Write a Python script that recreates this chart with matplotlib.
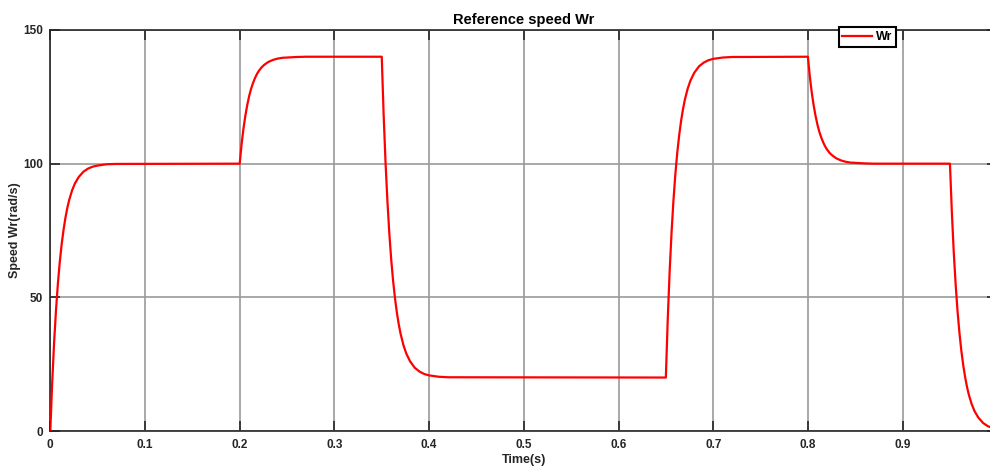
import numpy as np
import matplotlib
matplotlib.use("Agg")
import matplotlib.pyplot as plt

plt.rcParams['font.family'] = ['Liberation Sans', 'DejaVu Sans']

# time offsets (s) after each reference change at which values were read
offsets = [0, 0.001, 0.002, 0.003, 0.004, 0.005, 0.006, 0.007, 0.008, 0.009,
           0.010, 0.012, 0.014, 0.016, 0.018, 0.020, 0.023, 0.026, 0.030,
           0.035, 0.040, 0.045, 0.050, 0.060, 0.070]

# instants of reference change (s)
step_times = [0.0, 0.2, 0.35, 0.65, 0.8, 0.95]

# speed values (rad/s) read after each change
seg1 = [0, 9.5, 18.1, 25.9, 33.0, 39.4, 45.1, 50.3, 55.1, 59.3, 63.2, 69.9, 75.3,
        79.8, 83.5, 86.5, 90.0, 92.6, 95.0, 97.0, 98.2, 98.9, 99.3, 99.8, 99.9]
seg2 = [100, 103.8, 107.3, 110.4, 113.2, 115.7, 118.0, 120.1, 122.0, 123.7, 125.3,
        128.0, 130.1, 131.9, 133.4, 134.6, 136.0, 137.0, 138.0, 138.8, 139.3,
        139.6, 139.7, 139.9, 140.0]
seg3 = [140, 128.6, 118.2, 108.9, 100.4, 92.8, 85.9, 79.6, 73.9, 68.8, 64.1, 56.1,
        49.6, 44.2, 39.8, 36.2, 32.0, 28.9, 26.0, 23.6, 22.2, 21.3, 20.8, 20.3, 20.1]
seg4 = [20, 31.4, 41.8, 51.1, 59.6, 67.2, 74.1, 80.4, 86.1, 91.2, 95.9, 103.9,
        110.4, 115.8, 120.2, 123.8, 128.0, 131.1, 134.0, 136.4, 137.8, 138.7,
        139.2, 139.7, 139.9]
seg5 = [140, 136.2, 132.7, 129.6, 126.8, 124.3, 122.0, 119.9, 118.0, 116.3, 114.7,
        112.0, 109.9, 108.1, 106.6, 105.4, 104.0, 103.0, 102.0, 101.2, 100.7,
        100.4, 100.3, 100.1, 100.0]
seg6 = [100, 90.5, 81.9, 74.1, 67.0, 60.7, 54.9, 49.7, 44.9, 40.7, 36.8, 30.1,
        24.7, 20.2, 16.5, 13.5, 10.0, 7.4, 5.0, 3.0, 1.8, 1.1, 0.7]
segments = [seg1, seg2, seg3, seg4, seg5, seg6]

x_ticks = [0, 0.1, 0.2, 0.3, 0.4, 0.5, 0.6, 0.7, 0.8, 0.9]
x_tick_labels = ['0', '0.1', '0.2', '0.3', '0.4', '0.5', '0.6', '0.7', '0.8', '0.9']
y_ticks = [0, 50, 100, 150]

# build series
t_all, w_all = [], []
for t0, seg in zip(step_times, segments):
    for off, v in zip(offsets, seg):
        t_all.append(t0 + off)
        w_all.append(v)

txt = '#262626'
fig = plt.figure(figsize=(9.9, 4.66), dpi=100)
ax = fig.add_axes([50.3 / 990, 35 / 466, 947 / 990, 401 / 466])

ax.plot(t_all, w_all, color='red', lw=1.6, label='Wr', zorder=3)

ax.set_xlim(0, 1)
ax.set_ylim(0, 150)
ax.set_xticks(x_ticks)
ax.set_xticklabels(x_tick_labels)
ax.set_yticks(y_ticks)
ax.grid(True, color='#9a9a9a', lw=1.2)
ax.set_axisbelow(True)

for s in ax.spines.values():
    s.set_color(txt)
    s.set_linewidth(1.2)

ax.tick_params(direction='in', length=7, width=1.2, color=txt, top=True,
               right=True, labelsize=8.5, labelcolor=txt)
ax.tick_params(axis='x', pad=6)
ax.tick_params(axis='y', pad=5)
for lab in ax.get_xticklabels() + ax.get_yticklabels():
    lab.set_fontweight('bold')

ax.set_title('Reference speed Wr', fontsize=10.5, fontweight='bold', color='black', pad=4)
ax.set_xlabel('Time(s)', fontsize=9, fontweight='bold', color=txt, labelpad=2)
ax.set_ylabel('Speed Wr(rad/s)', fontsize=9, fontweight='bold', color=txt, labelpad=2)

leg = ax.legend(loc='center', bbox_to_anchor=(867.5 / 990, 1 - 37 / 466),
                bbox_transform=fig.transFigure, frameon=True, fancybox=False,
                handlelength=2.4, handletextpad=0.3, borderpad=0.3,
                prop={'weight': 'bold', 'size': 9})
leg.get_frame().set_edgecolor('black')
leg.get_frame().set_linewidth(1.5)
leg.get_frame().set_alpha(1)
leg.set_zorder(10)

fig.savefig('out.png', dpi=100)
